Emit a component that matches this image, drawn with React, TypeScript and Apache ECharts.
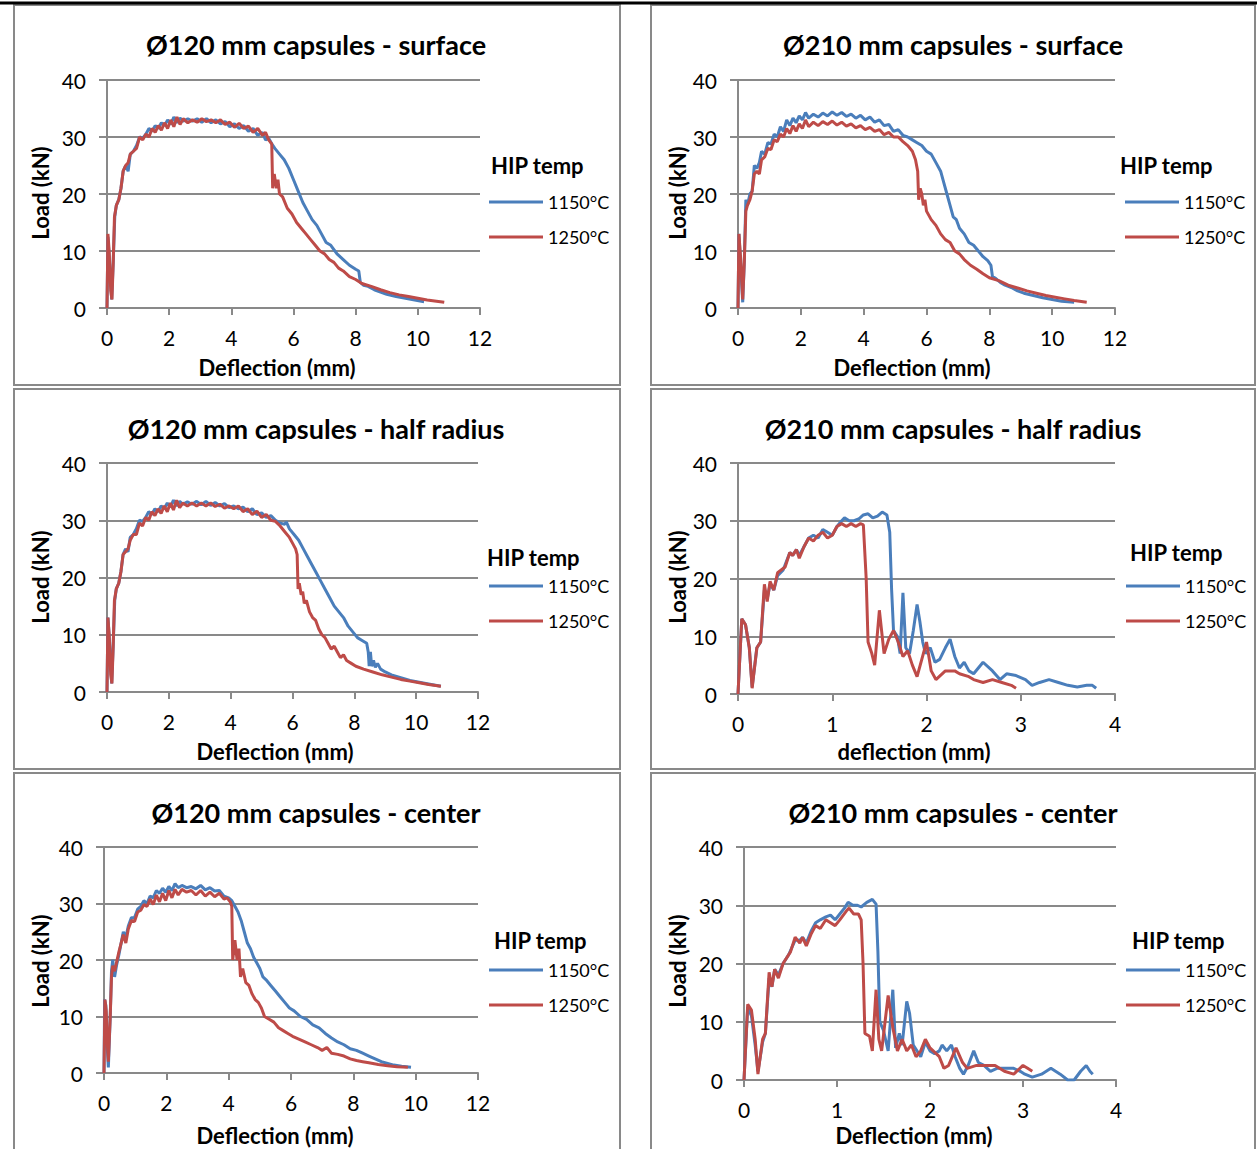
import React, { useEffect, useRef } from "react";
import * as echarts from "echarts";

type Pt = [number, number];

const PANEL_TITLES = [
  "Ø120 mm capsules - surface",
  "Ø210 mm capsules - surface",
  "Ø120 mm capsules - half radius",
  "Ø210 mm capsules - half radius",
  "Ø120 mm capsules - center",
  "Ø210 mm capsules - center",
];
const X_NAMES = ["Deflection (mm)", "Deflection (mm)", "Deflection (mm)", "deflection (mm)", "Deflection (mm)", "Deflection (mm)"];
const Y_NAME = "Load (kN)";
const SERIES_NAMES = ["1150°C", "1250°C"];
const LEGEND_TITLE = "HIP temp";
const X_MAX = [12, 12, 12, 4, 12, 4];
const X_INTERVAL = [2, 2, 2, 1, 2, 1];
const Y_MAX = 40;
const Y_INTERVAL = 10;

const P1_1150: Pt[] = [[0,0],[0.03,12.5],[0.08,8],[0.15,1.5],[0.2,8],[0.25,16],[0.3,18],[0.38,19],[0.45,21],[0.52,24],[0.6,25],[0.68,24],[0.75,27],[0.85,27.5],[0.95,28.5],[1.05,30],[1.15,29.8],[1.25,30.5],[1.35,31.5],[1.45,31],[1.55,32],[1.65,31.5],[1.75,32.5],[1.85,32],[1.95,33],[2.05,32.2],[2.15,33.5],[2.25,32.5],[2.35,33.3],[2.45,32.8],[2.6,33.2],[2.75,32.8],[2.9,33.2],[3.05,32.6],[3.2,33.2],[3.35,32.5],[3.5,33],[3.65,32.3],[3.8,32.7],[3.95,31.8],[4.1,32.3],[4.25,31.5],[4.4,32],[4.55,31],[4.7,31.5],[4.85,30.3],[5.0,30.8],[5.1,29.5],[5.2,29.8],[5.3,28.8],[5.4,28],[5.55,27],[5.7,26],[5.85,24.5],[6.0,22.5],[6.15,20.5],[6.3,18.5],[6.45,17],[6.6,15.5],[6.75,14.5],[6.9,13],[7.05,11.5],[7.2,11],[7.4,9.5],[7.6,8.5],[7.8,7.5],[8.0,6.8],[8.1,6.5],[8.15,4.5],[8.25,4],[8.4,3.8],[8.6,3.2],[8.8,2.8],[9.0,2.4],[9.3,2],[9.6,1.7],[9.9,1.4],[10.2,1.1]];
const P1_1250: Pt[] = [[0,0],[0.03,13],[0.07,10],[0.12,3],[0.16,1.5],[0.2,8],[0.24,16],[0.3,18],[0.38,19],[0.45,21],[0.52,24],[0.6,25],[0.68,25.5],[0.75,27],[0.85,27.5],[0.95,28],[1.05,30],[1.15,29.5],[1.25,30.5],[1.35,30],[1.45,31.5],[1.55,30.8],[1.65,32],[1.75,31.2],[1.85,32.5],[1.95,31.5],[2.05,33],[2.15,31.8],[2.25,33.5],[2.35,32.2],[2.45,33.2],[2.6,32.5],[2.75,33],[2.9,32.6],[3.05,33.2],[3.2,32.7],[3.35,33],[3.5,32.5],[3.65,33],[3.8,32.2],[3.95,32.6],[4.1,31.7],[4.25,32.4],[4.4,31.5],[4.55,31.9],[4.7,30.8],[4.85,31.5],[5.0,30.3],[5.1,30.8],[5.2,29.5],[5.3,28.8],[5.33,21],[5.38,23.5],[5.45,21],[5.5,22.5],[5.55,20],[5.65,19.5],[5.8,17.5],[5.95,16.5],[6.1,15],[6.25,14],[6.4,13],[6.55,12],[6.7,11],[6.85,10],[7.0,9.5],[7.15,8.5],[7.3,8],[7.45,7],[7.6,6.5],[7.8,5.5],[8.0,5],[8.2,4.3],[8.5,3.8],[8.8,3.2],[9.1,2.7],[9.4,2.3],[9.7,2],[10.0,1.7],[10.3,1.4],[10.6,1.2],[10.85,1]];

const P2_1150: Pt[] = [[0,0],[0.03,13],[0.08,8],[0.15,1],[0.2,8],[0.25,19],[0.3,18],[0.38,20],[0.45,20.5],[0.52,25],[0.6,24.5],[0.68,25.5],[0.75,27.5],[0.85,27],[0.95,29],[1.05,28.8],[1.15,30.5],[1.25,30],[1.35,31.8],[1.45,31],[1.55,33],[1.65,32],[1.75,33.3],[1.85,32.5],[1.95,33.7],[2.05,33],[2.15,34.3],[2.25,33.3],[2.4,34],[2.55,33.5],[2.7,34.2],[2.85,33.7],[3.0,34.4],[3.15,33.8],[3.3,34.3],[3.45,33.6],[3.6,34],[3.75,33.3],[3.9,33.8],[4.05,33],[4.2,33.5],[4.35,32.6],[4.5,33],[4.65,32],[4.8,32.2],[4.95,31],[5.1,31.3],[5.25,30.3],[5.4,30],[5.55,29.5],[5.7,29],[5.85,28.5],[6.0,27.5],[6.15,27],[6.3,25.5],[6.45,24],[6.55,22],[6.65,20],[6.75,18],[6.85,16],[6.95,15.5],[7.05,14],[7.2,13],[7.35,11.5],[7.5,11],[7.65,10],[7.8,9],[7.95,8.3],[8.05,7.5],[8.1,5.5],[8.2,5.2],[8.35,4.5],[8.5,4],[8.7,3.6],[8.9,3],[9.1,2.6],[9.4,2.2],[9.7,1.8],[10.0,1.5],[10.3,1.2],[10.7,1]];
const P2_1250: Pt[] = [[0,0],[0.03,13],[0.08,9],[0.15,1.5],[0.2,8],[0.25,17],[0.3,18],[0.38,19],[0.45,20.5],[0.52,23.5],[0.6,24],[0.68,23.5],[0.75,26],[0.85,26.5],[0.95,28],[1.05,27.8],[1.15,29.5],[1.25,29.2],[1.35,30.5],[1.45,30],[1.55,31.5],[1.65,30.6],[1.75,32],[1.85,31],[1.95,32.3],[2.05,31.5],[2.15,33],[2.25,31.8],[2.4,32.6],[2.55,32],[2.7,32.7],[2.85,32.2],[3.0,32.8],[3.15,32.1],[3.3,32.6],[3.45,31.9],[3.6,32.3],[3.75,31.6],[3.9,32],[4.05,31.3],[4.2,31.7],[4.35,31],[4.5,31.3],[4.65,30.4],[4.8,30.8],[4.95,30],[5.1,30],[5.25,29.2],[5.4,28.5],[5.55,27.5],[5.65,26],[5.72,24],[5.75,19],[5.8,21],[5.85,20],[5.9,18],[5.95,19],[6.0,17],[6.15,15.5],[6.3,14.5],[6.45,13],[6.6,12],[6.75,11.5],[6.9,10],[7.05,9.5],[7.2,8.5],[7.4,7.5],[7.6,6.8],[7.8,6],[8.0,5.3],[8.3,4.8],[8.6,4],[8.9,3.5],[9.2,3],[9.5,2.6],[9.8,2.2],[10.1,1.9],[10.4,1.6],[10.7,1.3],[11.1,1]];

const P3_1150: Pt[] = [[0,0],[0.03,13],[0.08,9],[0.15,1.5],[0.2,8],[0.25,16],[0.3,18],[0.38,19],[0.45,21],[0.52,24],[0.6,25],[0.68,24.5],[0.75,27],[0.85,27.5],[0.95,28.5],[1.05,30],[1.15,29.8],[1.25,30.5],[1.35,31.5],[1.45,31],[1.55,32],[1.65,31.5],[1.75,32.5],[1.85,32],[1.95,33],[2.05,32.3],[2.15,33.5],[2.25,32.5],[2.35,33.3],[2.45,32.8],[2.6,33.2],[2.75,32.8],[2.9,33.3],[3.05,32.7],[3.2,33.3],[3.35,32.6],[3.5,33.1],[3.65,32.5],[3.8,32.9],[3.95,32.2],[4.1,32.5],[4.25,32],[4.4,32.3],[4.55,31.5],[4.7,32],[4.85,31],[5.0,31.3],[5.15,30.5],[5.3,30.8],[5.45,30],[5.6,29.5],[5.75,29.3],[5.8,29.7],[5.9,28.5],[6.05,27.5],[6.2,26.5],[6.35,25],[6.5,23.5],[6.6,22.5],[6.75,21],[6.9,19.5],[7.05,18],[7.2,16.5],[7.35,15],[7.5,14],[7.65,13],[7.8,11.5],[7.95,10.5],[8.1,9.5],[8.25,9],[8.4,8.5],[8.45,7],[8.48,4.5],[8.52,7],[8.56,4.5],[8.62,5.5],[8.68,4.3],[8.75,5],[8.85,4],[9.0,3.5],[9.2,3],[9.5,2.5],[9.8,2],[10.1,1.7],[10.4,1.4],[10.8,1]];
const P3_1250: Pt[] = [[0,0],[0.03,13],[0.07,10],[0.12,3],[0.16,1.5],[0.2,8],[0.24,16],[0.3,18],[0.38,19],[0.45,21],[0.52,24],[0.6,24.5],[0.68,25],[0.75,26.5],[0.85,27.5],[0.95,27.5],[1.05,29.5],[1.15,29],[1.25,30.5],[1.35,30],[1.45,31.5],[1.55,30.8],[1.65,32],[1.75,31.2],[1.85,32.5],[1.95,31.5],[2.05,33],[2.15,31.8],[2.25,33.5],[2.35,32.2],[2.45,33],[2.6,32.5],[2.75,33],[2.9,32.5],[3.05,33],[3.2,32.5],[3.35,33],[3.5,32.4],[3.65,32.8],[3.8,32.1],[3.95,32.5],[4.1,32],[4.25,32.5],[4.4,31.5],[4.55,32],[4.7,31],[4.85,31.6],[5.0,30.5],[5.15,31],[5.3,30],[5.45,29.8],[5.6,29],[5.75,28],[5.9,27],[6.0,26],[6.1,25],[6.15,24],[6.18,18],[6.22,19],[6.28,17],[6.33,17.5],[6.38,15.5],[6.45,16],[6.55,14],[6.65,13],[6.75,12.5],[6.85,11],[6.95,10],[7.05,9.5],[7.15,8.5],[7.25,7.5],[7.35,8],[7.45,7],[7.55,6],[7.65,6.5],[7.75,5.5],[7.9,5],[8.05,4.5],[8.3,4],[8.6,3.5],[8.9,3],[9.2,2.6],[9.5,2.2],[9.8,1.9],[10.1,1.6],[10.4,1.3],[10.8,1]];

const P4_1150: Pt[] = [[0,0],[0.04,13],[0.08,12],[0.12,8],[0.15,1.2],[0.2,8],[0.24,9],[0.28,18],[0.31,16.5],[0.34,19],[0.38,18],[0.42,20.5],[0.48,21.5],[0.55,24.5],[0.58,24],[0.62,25],[0.65,24],[0.7,25.5],[0.75,27],[0.8,27.5],[0.85,27],[0.9,28.5],[0.95,28],[1.0,27.5],[1.05,29],[1.1,30],[1.13,30.5],[1.18,30],[1.23,30],[1.28,30.3],[1.33,31],[1.38,31.2],[1.43,30.5],[1.48,30.8],[1.53,31.5],[1.58,31],[1.61,28],[1.63,18],[1.65,11],[1.69,10],[1.72,7],[1.75,17.5],[1.78,8],[1.82,7],[1.86,11],[1.9,15.5],[1.93,12.5],[1.96,9],[1.99,7],[2.04,8],[2.09,5.5],[2.14,6],[2.2,8],[2.25,9.5],[2.3,6.5],[2.35,4.5],[2.4,5.5],[2.45,4],[2.5,3.5],[2.6,5.5],[2.7,4],[2.78,2.5],[2.85,3.5],[2.95,3.2],[3.05,2.5],[3.12,1.5],[3.2,2],[3.3,2.5],[3.4,2],[3.5,1.5],[3.6,1.2],[3.7,1.5],[3.76,1.5],[3.8,1]];
const P4_1250: Pt[] = [[0,0],[0.04,13],[0.08,12],[0.12,8],[0.15,1],[0.2,8],[0.24,9],[0.28,19],[0.31,16],[0.34,19.5],[0.38,18],[0.42,21],[0.5,22],[0.55,24.5],[0.58,24],[0.62,25],[0.65,23.5],[0.7,25.5],[0.75,27],[0.8,26.5],[0.85,27.5],[0.9,28],[0.95,27],[1.0,27.5],[1.05,29],[1.1,29.5],[1.15,29],[1.2,29.5],[1.25,29],[1.3,29.5],[1.33,29.3],[1.36,20],[1.38,9],[1.42,7],[1.45,5],[1.5,14.5],[1.55,7],[1.6,9.5],[1.65,11],[1.7,9],[1.75,6.5],[1.8,7.5],[1.85,5],[1.9,3],[1.95,6],[2.0,9],[2.05,4],[2.1,2.5],[2.2,4],[2.3,4],[2.35,3.5],[2.45,3],[2.5,2.5],[2.6,2],[2.7,2.5],[2.8,2],[2.9,1.5],[2.95,1]];

const P5_1150: Pt[] = [[0,0],[0.02,13],[0.06,12],[0.1,5],[0.14,1],[0.2,10],[0.24,18],[0.28,20],[0.34,17],[0.4,19],[0.48,21],[0.55,23],[0.62,25],[0.7,24],[0.78,26],[0.88,27.5],[0.98,27.5],[1.08,29],[1.18,29.5],[1.28,30.5],[1.38,30],[1.48,31.3],[1.58,31],[1.68,32.3],[1.78,31.8],[1.88,32.7],[1.98,32],[2.08,33],[2.18,32.3],[2.28,33.5],[2.38,32.8],[2.5,33.2],[2.65,32.8],[2.8,33],[2.95,32.6],[3.1,33.2],[3.25,32.4],[3.4,32.8],[3.55,32.2],[3.7,32.3],[3.85,31.3],[4.0,31],[4.1,30.5],[4.2,29.5],[4.3,28.5],[4.4,27],[4.5,25],[4.6,23],[4.7,22],[4.8,20.5],[4.9,19.5],[5.0,18.5],[5.1,17],[5.2,16.5],[5.35,15.5],[5.5,14.5],[5.65,13.5],[5.8,12.5],[5.95,11.5],[6.1,11],[6.3,10],[6.5,9.5],[6.7,8.5],[6.9,8],[7.1,7],[7.3,6.2],[7.5,5.5],[7.7,5],[7.9,4.3],[8.1,4],[8.3,3.5],[8.5,3],[8.7,2.5],[8.9,2],[9.1,1.7],[9.3,1.4],[9.55,1.2],[9.85,1]];
const P5_1250: Pt[] = [[0,0],[0.03,13],[0.07,11],[0.1,6],[0.14,2],[0.2,10],[0.24,17],[0.28,19],[0.34,18],[0.4,19.5],[0.48,21.5],[0.55,23],[0.62,24.5],[0.7,23],[0.78,25.5],[0.88,27],[0.98,26.8],[1.08,28.5],[1.18,28.8],[1.28,29.8],[1.38,29.5],[1.48,30.8],[1.58,29.8],[1.68,31.5],[1.78,30.3],[1.88,31.8],[1.98,30.5],[2.08,32.3],[2.18,31],[2.28,32.5],[2.38,31.5],[2.5,32.5],[2.65,32],[2.8,32.3],[2.95,31.5],[3.1,32.3],[3.25,31.3],[3.4,32],[3.55,31.2],[3.7,31.8],[3.85,30.8],[3.95,31],[4.05,30.3],[4.1,29.5],[4.13,20],[4.2,23.5],[4.27,20],[4.33,22],[4.38,17],[4.45,18.5],[4.55,16],[4.65,15.5],[4.75,14],[4.85,13],[4.95,12.5],[5.05,11.5],[5.15,10],[5.3,9.5],[5.45,9],[5.6,8],[5.75,7.5],[5.9,7],[6.05,6.5],[6.25,6],[6.45,5.5],[6.65,5],[6.85,4.5],[7.0,4],[7.15,4.5],[7.3,3.5],[7.5,3.3],[7.7,3],[7.9,2.5],[8.1,2.2],[8.3,2],[8.5,1.8],[8.8,1.5],[9.1,1.3],[9.4,1.1],[9.75,1]];

const P6_1150: Pt[] = [[0,0],[0.04,12.5],[0.08,11],[0.12,6],[0.15,1.5],[0.2,6.5],[0.23,8],[0.27,17.5],[0.3,16],[0.33,19],[0.37,18],[0.42,20],[0.48,21.5],[0.55,24],[0.6,24],[0.63,24.5],[0.67,23.5],[0.72,25.5],[0.77,27],[0.82,27.5],[0.88,28],[0.93,28.3],[0.98,27.5],[1.03,28.5],[1.08,29.5],[1.12,30.5],[1.17,30],[1.22,30],[1.26,29.7],[1.32,30.5],[1.38,31],[1.42,30.2],[1.44,22],[1.46,10],[1.5,8.5],[1.55,5],[1.6,15.5],[1.63,5.5],[1.67,8],[1.7,6],[1.75,13.5],[1.78,11.5],[1.82,6],[1.86,5],[1.9,4],[1.95,6.5],[2.0,5],[2.05,4.5],[2.1,5],[2.13,6],[2.18,5],[2.23,6],[2.27,4],[2.32,2],[2.36,1],[2.41,2.5],[2.47,5],[2.52,3],[2.58,2.5],[2.65,1.5],[2.72,2],[2.8,2],[2.9,2],[2.97,1.5],[3.02,1],[3.1,0.5],[3.2,1],[3.3,2],[3.4,1],[3.48,0],[3.55,0],[3.62,1.5],[3.68,2.5],[3.72,1.5],[3.75,1]];
const P6_1250: Pt[] = [[0,0],[0.04,13],[0.08,12],[0.12,7],[0.15,1],[0.2,7],[0.23,8],[0.27,18.5],[0.3,16],[0.33,19],[0.37,17.5],[0.42,20],[0.5,22],[0.55,24.5],[0.6,23.5],[0.63,24.5],[0.67,23],[0.72,25],[0.77,26.5],[0.82,26],[0.88,27.5],[0.93,27],[0.98,26.5],[1.03,27.5],[1.1,29],[1.13,29.5],[1.18,28.5],[1.23,28.5],[1.26,27.5],[1.28,20],[1.3,8],[1.35,7.5],[1.38,5],[1.42,15.5],[1.45,7],[1.48,5],[1.55,14.5],[1.6,9],[1.65,5],[1.7,7],[1.75,5],[1.8,6],[1.85,4],[1.9,5],[1.95,7],[2.0,5.5],[2.1,4],[2.15,2],[2.2,2.5],[2.28,5.5],[2.35,3],[2.4,2],[2.5,2.5],[2.6,2.5],[2.7,2.5],[2.8,1.5],[2.9,1],[3.0,2.5],[3.05,2],[3.1,1.5]];

const DATA_1150 = [P1_1150, P2_1150, P3_1150, P4_1150, P5_1150, P6_1150];
const DATA_1250 = [P1_1250, P2_1250, P3_1250, P4_1250, P5_1250, P6_1250];

// layout (pixels)
const GRIDS = [
  { left: 107, top: 80, width: 373, height: 228 },
  { left: 738, top: 80, width: 377, height: 228 },
  { left: 107, top: 463, width: 371, height: 229 },
  { left: 738, top: 463, width: 377, height: 231 },
  { left: 104, top: 847, width: 374, height: 226 },
  { left: 744, top: 847, width: 372, height: 233 },
];
const TITLE_POS = [[316, 44], [953, 44], [316, 428], [953, 428], [316, 812], [953, 812]];
const XNAME_POS = [[277, 367], [912, 367], [275, 751], [914, 751], [275, 1135], [914, 1135]];
const YNAME_POS = [[40, 193], [677, 193], [40, 577], [677, 577], [40, 961], [677, 961]];
const HIP_POS = [[491, 165], [1120, 165], [487, 557], [1130, 552], [494, 940], [1132, 940]];
const LEG_POS = [[489, 202], [1125, 202], [489, 586], [1126, 586], [489, 970], [1126, 970]];
const PANELS = [
  [14, 5, 606, 380], [651, 5, 604, 380],
  [14, 389, 606, 380], [651, 389, 604, 380],
  [14, 773, 606, 380], [651, 773, 604, 380],
];

const FONT = "Lato, 'Open Sans', sans-serif";
const BLUE = "#4A7EBB";
const RED = "#BE4B48";
const GRAY = "#898989";

export default function App() {
  const ref = useRef<HTMLDivElement>(null);
  useEffect(() => {
    if (!ref.current) return;
    const chart = echarts.init(ref.current, undefined, { renderer: "svg" });
    const grid = GRIDS.map((g) => ({ ...g, containLabel: false }));
    const xAxis = GRIDS.map((_, i) => ({
      type: "value",
      gridIndex: i,
      min: 0,
      max: X_MAX[i],
      interval: X_INTERVAL[i],
      axisLine: { show: true, onZero: false, lineStyle: { color: GRAY, width: 2 } },
      axisTick: { show: true, length: 7, lineStyle: { color: GRAY, width: 2 } },
      axisLabel: { margin: 19, color: "#000", fontSize: 21, fontFamily: FONT },
      splitLine: { show: false },
    }));
    const yAxis = GRIDS.map((_, i) => ({
      type: "value",
      gridIndex: i,
      min: 0,
      max: Y_MAX,
      interval: Y_INTERVAL,
      axisLine: { show: true, lineStyle: { color: GRAY, width: 2 } },
      axisTick: { show: true, length: 8, lineStyle: { color: GRAY, width: 2 } },
      axisLabel: { margin: 21, color: "#000", fontSize: 21, fontFamily: FONT },
      splitLine: { show: true, lineStyle: { color: GRAY, width: 2 } },
    }));
    const series: any[] = [];
    GRIDS.forEach((_, i) => {
      series.push({
        type: "line", name: SERIES_NAMES[0], xAxisIndex: i, yAxisIndex: i,
        data: DATA_1150[i], showSymbol: false, symbol: "none",
        lineStyle: { color: BLUE, width: 3 }, itemStyle: { color: BLUE }, z: 3,
      });
      series.push({
        type: "line", name: SERIES_NAMES[1], xAxisIndex: i, yAxisIndex: i,
        data: DATA_1250[i], showSymbol: false, symbol: "none",
        lineStyle: { color: RED, width: 3 }, itemStyle: { color: RED }, z: 4,
      });
    });
    const legend = LEG_POS.map(([x, y]) => ({
      left: x,
      top: y - 9,
      padding: 0,
      orient: "vertical",
      icon: "rect",
      itemWidth: 54,
      itemHeight: 3,
      itemGap: 17,
      selectedMode: false,
      data: SERIES_NAMES,
      textStyle: { color: "#000", fontSize: 18, fontFamily: FONT, lineHeight: 18 },
    }));
    const graphic: any[] = [];
    graphic.push({ type: "rect", shape: { x: 0, y: 1.5, width: 1257, height: 3 }, style: { fill: "#000" }, z: 10 });
    PANELS.forEach(([x, y, w, h]) => {
      graphic.push({ type: "rect", shape: { x, y, width: w, height: h }, style: { fill: "none", stroke: GRAY, lineWidth: 2 }, silent: true });
    });
    PANEL_TITLES.forEach((t, i) => {
      graphic.push({ type: "text", x: TITLE_POS[i][0], y: TITLE_POS[i][1], style: { text: t, fontSize: 27, fontWeight: "bold", fontFamily: FONT, fill: "#000", align: "center", verticalAlign: "middle" } });
      graphic.push({ type: "text", x: XNAME_POS[i][0], y: XNAME_POS[i][1], style: { text: X_NAMES[i], fontSize: 22, fontWeight: "bold", fontFamily: FONT, fill: "#000", align: "center", verticalAlign: "middle" } });
      graphic.push({ type: "text", x: YNAME_POS[i][0], y: YNAME_POS[i][1], rotation: Math.PI / 2, style: { text: Y_NAME, fontSize: 22, fontWeight: "bold", fontFamily: FONT, fill: "#000", align: "center", verticalAlign: "middle" } });
      graphic.push({ type: "text", x: HIP_POS[i][0], y: HIP_POS[i][1], style: { text: LEGEND_TITLE, fontSize: 22, fontWeight: "bold", fontFamily: FONT, fill: "#000", align: "left", verticalAlign: "middle" } });
    });
    chart.setOption({
      animation: false,
      backgroundColor: "#fff",
      grid, xAxis, yAxis, series, legend, graphic,
    });
    return () => chart.dispose();
  }, []);
  return <div ref={ref} style={{ position: "absolute", left: 0, top: 0, width: 1257, height: 1149 }} />;
}
